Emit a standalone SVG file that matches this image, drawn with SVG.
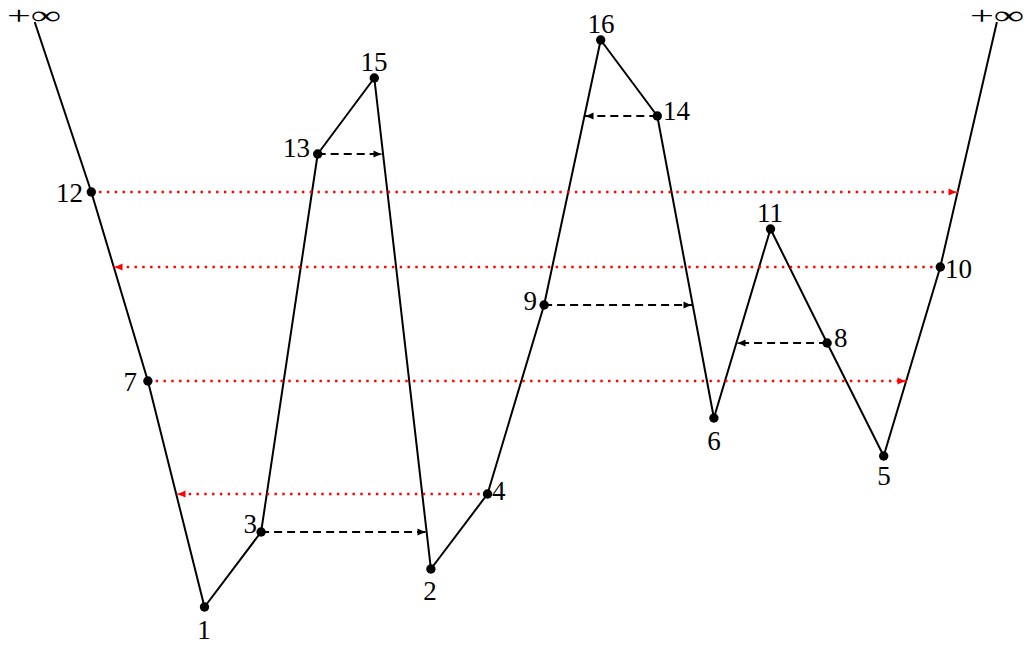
<svg xmlns="http://www.w3.org/2000/svg" width="1027" height="646" viewBox="0 0 1027 646">
<style>
text{font-family:"Liberation Serif","DejaVu Serif",serif;font-size:27px;fill:#000}
.inf{font-size:26px}
.curve{fill:none;stroke:#000;stroke-width:2;stroke-linejoin:round}
.dash{fill:none;stroke:#000;stroke-width:2;stroke-dasharray:8 5}
.dot{fill:none;stroke:#f00;stroke-width:2.4;stroke-dasharray:2.4 5.4}
.pt{fill:#000}
</style>
<defs>
<marker id="ab" markerUnits="userSpaceOnUse" markerWidth="12" markerHeight="10" viewBox="0 -5 10 10" refX="9.5" refY="0" orient="auto"><path d="M0,-3.5 Q4,-1 10,0 Q4,1 0,3.5 Z" fill="#000"/></marker>
<marker id="ar" markerUnits="userSpaceOnUse" markerWidth="12" markerHeight="10" viewBox="0 -5 10 10" refX="9.5" refY="0" orient="auto"><path d="M0,-3.5 Q4,-1 10,0 Q4,1 0,3.5 Z" fill="#f00"/></marker>
</defs>
<g id="connectors">
<polyline class="curve" points="34.7,22 91.3,192 147.9,381 204.5,607 261.1,532 317.7,154 374.3,78 430.9,569 487.5,494 544.1,305 600.7,40 657.3,116 713.9,418 770.5,229 827.1,343 883.7,456 940.3,267 996.9,22"/>
<line class="dot" x1="91.3" y1="192" x2="958" y2="192" marker-end="url(#ar)"/>
<line class="dot" x1="940.3" y1="267" x2="113" y2="267" marker-end="url(#ar)"/>
<line class="dot" x1="147.9" y1="381" x2="907" y2="381" marker-end="url(#ar)"/>
<line class="dot" x1="487.5" y1="494" x2="176" y2="494" marker-end="url(#ar)"/>
<line class="dash" x1="317.7" y1="154" x2="383" y2="154" marker-end="url(#ab)"/>
<line class="dash" x1="261.1" y1="532" x2="427" y2="532" marker-end="url(#ab)"/>
<line class="dash" x1="544.1" y1="305" x2="693" y2="305" marker-end="url(#ab)"/>
<line class="dash" x1="657.3" y1="116" x2="584" y2="116" marker-end="url(#ab)"/>
<line class="dash" x1="827.1" y1="343" x2="736" y2="343" marker-end="url(#ab)"/>
</g>
<g id="inf-left"><text class="inf" x="7" y="24" textLength="54" lengthAdjust="spacingAndGlyphs">+∞</text></g>
<g id="inf-right"><text class="inf" x="970" y="24" textLength="54" lengthAdjust="spacingAndGlyphs">+∞</text></g>
<g id="n1"><circle class="pt" cx="204.5" cy="607" r="4.7"/><text x="204" y="639" text-anchor="middle">1</text></g>
<g id="n2"><circle class="pt" cx="430.9" cy="569" r="4.7"/><text x="430" y="600" text-anchor="middle">2</text></g>
<g id="n3"><circle class="pt" cx="261.1" cy="532" r="4.7"/><text x="257" y="533" text-anchor="end">3</text></g>
<g id="n4"><circle class="pt" cx="487.5" cy="494" r="4.7"/><text x="492" y="500" text-anchor="start">4</text></g>
<g id="n5"><circle class="pt" cx="883.7" cy="456" r="4.7"/><text x="884" y="485" text-anchor="middle">5</text></g>
<g id="n6"><circle class="pt" cx="713.9" cy="418" r="4.7"/><text x="714" y="450" text-anchor="middle">6</text></g>
<g id="n7"><circle class="pt" cx="147.9" cy="381" r="4.7"/><text x="137" y="391" text-anchor="end">7</text></g>
<g id="n8"><circle class="pt" cx="827.1" cy="343" r="4.7"/><text x="834" y="347" text-anchor="start">8</text></g>
<g id="n9"><circle class="pt" cx="544.1" cy="305" r="4.7"/><text x="537" y="310" text-anchor="end">9</text></g>
<g id="n10"><circle class="pt" cx="940.3" cy="267" r="4.7"/><text x="945" y="278" text-anchor="start">10</text></g>
<g id="n11"><circle class="pt" cx="770.5" cy="229" r="4.7"/><text x="770" y="222" text-anchor="middle">11</text></g>
<g id="n12"><circle class="pt" cx="91.3" cy="192" r="4.7"/><text x="83" y="202" text-anchor="end">12</text></g>
<g id="n13"><circle class="pt" cx="317.7" cy="154" r="4.7"/><text x="310" y="157" text-anchor="end">13</text></g>
<g id="n14"><circle class="pt" cx="657.3" cy="116" r="4.7"/><text x="663" y="120" text-anchor="start">14</text></g>
<g id="n15"><circle class="pt" cx="374.3" cy="78" r="4.7"/><text x="374" y="71" text-anchor="middle">15</text></g>
<g id="n16"><circle class="pt" cx="600.7" cy="40" r="4.7"/><text x="601" y="33" text-anchor="middle">16</text></g>
</svg>
